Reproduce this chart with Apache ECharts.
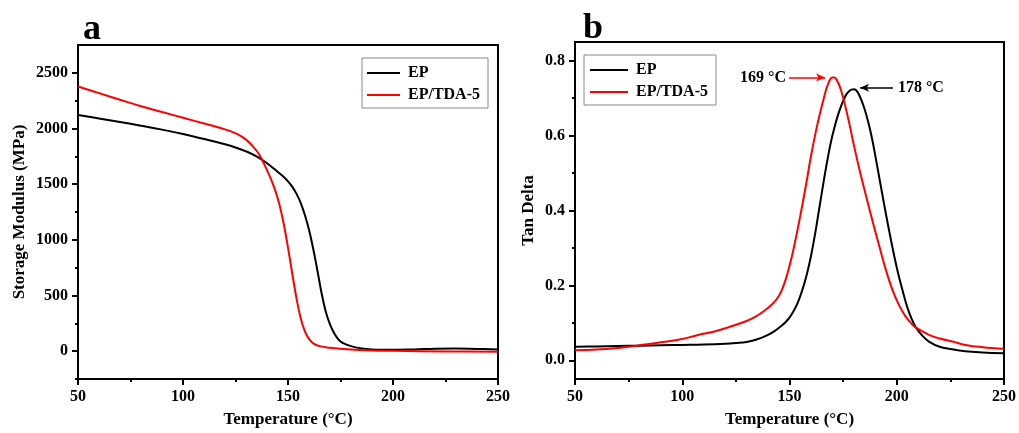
<!DOCTYPE html>
<html>
<head>
<meta charset="utf-8">
<script src="https://cdn.jsdelivr.net/npm/echarts@6/dist/echarts.min.js"></script>
<style>html,body{margin:0;padding:0;background:#fff}#c{width:1019px;height:433px}</style>
</head>
<body>
<div id="c"></div>
<script>
// ---------- Panel a : storage modulus ----------
var tA_EP   = [50,60,70,80,90,100,110,120,125,130,135,140,145,148,150,152,154,156,158,160,162,164,166,168,170,172,174,176,180,185,190,195,200,210,220,230,240,250];
var vA_EP   = [2122,2090,2058,2025,1990,1950,1905,1858,1830,1795,1750,1688,1612,1565,1525,1478,1415,1335,1225,1090,920,725,520,355,240,160,105,75,45,25,15,12,12,16,22,24,20,16];
var tA_TDA  = [50,60,70,80,90,100,110,115,120,124,127,130,133,136,138,140,142,144,146,148,150,152,154,156,158,160,162,165,170,180,190,200,225,250];
var vA_TDA  = [2377,2318,2258,2200,2148,2097,2045,2020,1992,1965,1938,1900,1845,1775,1705,1625,1540,1440,1310,1140,930,700,480,300,180,110,70,45,30,14,6,3,-2,-5];
var yA_major = [0,500,1000,1500,2000,2500];
var yA_minor = [-250,250,750,1250,1750,2250];

// ---------- Panel b : tan delta ----------
var tB_EP   = [50,60,70,80,90,100,110,120,125,130,135,140,143,146,148,150,152,154,156,158,160,162,164,166,168,170,173,176,178,180,182,185,188,191,194,197,200,203,205,207,209,212,215,220,225,232,240,250];
var vB_EP   = [0.036,0.037,0.038,0.039,0.040,0.041,0.042,0.044,0.046,0.049,0.056,0.068,0.078,0.091,0.101,0.114,0.132,0.156,0.188,0.228,0.278,0.340,0.410,0.480,0.545,0.600,0.662,0.705,0.720,0.724,0.714,0.671,0.605,0.515,0.420,0.330,0.248,0.180,0.140,0.110,0.087,0.065,0.050,0.036,0.030,0.024,0.021,0.019];
var tB_TDA  = [50,60,70,75,80,90,100,107,115,122,130,134,138,141,144,146,148,150,152,155,158,160,163,166,168,170,171,172,174,177,180,183,186,189,192,195,198,201,204,207,209,215,220,226,232,240,250];
var vB_TDA  = [0.027,0.029,0.033,0.036,0.040,0.048,0.057,0.067,0.077,0.089,0.105,0.116,0.131,0.145,0.163,0.182,0.212,0.252,0.300,0.385,0.478,0.545,0.630,0.700,0.738,0.755,0.755,0.749,0.722,0.655,0.575,0.500,0.432,0.365,0.302,0.240,0.188,0.148,0.118,0.097,0.087,0.068,0.058,0.050,0.041,0.035,0.031];
var yB_major = [0,0.2,0.4,0.6,0.8];
var yB_minor = [0.1,0.3,0.5,0.7];

// annotations (data coordinates)
var annoTDA = {text:'169 °C', from:[149.8,0.755], to:[166.6,0.755]};
var annoEP  = {text:'178 °C', from:[198.2,0.728], to:[182.9,0.728]};

var legendNames = ['EP','EP/TDA-5'];
var panelLabels = ['a','b'];

function pairs(t,v){return t.map(function(x,i){return [x,v[i]];});}

var FONT = 'Liberation Serif';
var txt = {fontFamily:FONT, fontWeight:'bold', color:'#000', fontSize:16};

function xAxisDef(grid){
  return {gridIndex:grid, type:'value', min:50, max:250, interval:50, position:'bottom',
    name:'Temperature (°C)', nameLocation:'middle', nameGap:32,
    nameTextStyle:Object.assign({}, txt, {fontSize:17}),
    axisLine:{show:true, onZero:false, lineStyle:{color:'#000', width:2}},
    axisTick:{show:true, length:6, lineStyle:{color:'#000', width:2}},
    minorTick:{show:true, splitNumber:2, length:3, lineStyle:{color:'#000', width:2}},
    axisLabel:Object.assign({margin:10}, txt),
    splitLine:{show:false}};
}
function yAxisDef(grid, min, max, major, name, gap, fmt){
  return {gridIndex:grid, type:'value', min:min, max:max, position:'left',
    name:name, nameLocation:'middle', nameGap:gap,
    nameTextStyle:Object.assign({}, txt, {fontSize:17}),
    axisLine:{show:true, onZero:false, lineStyle:{color:'#000', width:2}},
    axisTick:{show:true, length:6, customValues:major, lineStyle:{color:'#000', width:2}},
    axisLabel:Object.assign({margin:10, customValues:major, formatter:fmt}, txt),
    splitLine:{show:false}};
}
function yMinorDef(grid, min, max, minor){
  return {gridIndex:grid, type:'value', min:min, max:max, position:'left', offset:0,
    axisLine:{show:false, onZero:false},
    axisTick:{show:true, length:3, customValues:minor, lineStyle:{color:'#000', width:2}},
    axisLabel:{show:false},
    splitLine:{show:false}};
}
function legendDef(names, left, top, iw, pad){
  return {data:names.map(function(n){return {name:n, icon:'rect'};}),
    orient:'vertical', left:left, top:top, itemWidth:iw, itemHeight:2, itemGap:6,
    padding:pad, borderColor:'#888', borderWidth:1, backgroundColor:'#fff',
    formatter:function(n){return n.trim();},
    textStyle:Object.assign({}, txt, {lineHeight:16, padding:[0,0,0,3]}),
    selectedMode:false};
}

var option = {
  animation:false,
  backgroundColor:'#fff',
  title:[
    {text:panelLabels[0], left:78, top:7, textStyle:{fontFamily:FONT, fontWeight:'bold', fontSize:36, color:'#000'}},
    {text:panelLabels[1], left:578, top:6, textStyle:{fontFamily:FONT, fontWeight:'bold', fontSize:36, color:'#000'}}
  ],
  grid:[
    {left:78, top:45, width:420, height:336, show:true, borderColor:'#000', borderWidth:2, backgroundColor:'transparent'},
    {left:575, top:42, width:429, height:338, show:true, borderColor:'#000', borderWidth:2, backgroundColor:'transparent'}
  ],
  legend:[
    legendDef([legendNames[0], legendNames[1]], 362, 58, 33, [7,8,5,5]),
    legendDef([legendNames[0]+' ', legendNames[1]+' '], 584, 55, 38, [7,8,5,6])
  ],
  xAxis:[xAxisDef(0), xAxisDef(1)],
  yAxis:[
    yAxisDef(0, -250, 2750, yA_major, 'Storage Modulus (MPa)', 50, function(v){return String(v);}),
    yAxisDef(1, -0.05, 0.85, yB_major, 'Tan Delta', 38, function(v){return v.toFixed(1);}),
    yMinorDef(0, -250, 2750, yA_minor),
    yMinorDef(1, -0.05, 0.85, yB_minor)
  ],
  series:[
    {name:legendNames[0], type:'line', xAxisIndex:0, yAxisIndex:0, data:pairs(tA_EP,vA_EP),
     smooth:0.4, symbol:'none', lineStyle:{color:'#000', width:2}, itemStyle:{color:'#000'}},
    {name:legendNames[1], type:'line', xAxisIndex:0, yAxisIndex:0, data:pairs(tA_TDA,vA_TDA),
     smooth:0.4, symbol:'none', lineStyle:{color:'#f00', width:2}, itemStyle:{color:'#f00'}},
    {name:legendNames[0]+' ', type:'line', xAxisIndex:1, yAxisIndex:1, data:pairs(tB_EP,vB_EP),
     smooth:0.4, symbol:'none', lineStyle:{color:'#000', width:2}, itemStyle:{color:'#000'},
     markLine:{silent:true, animation:false, symbol:['none','arrow'], symbolSize:[6,9],
       lineStyle:{color:'#000', width:1.5, type:'solid'},
       label:Object.assign({show:true, position:'start', distance:5, formatter:annoEP.text}, txt),
       data:[[{coord:annoEP.from},{coord:annoEP.to}]]}},
    {name:legendNames[1]+' ', type:'line', xAxisIndex:1, yAxisIndex:1, data:pairs(tB_TDA,vB_TDA),
     smooth:0.4, symbol:'none', lineStyle:{color:'#f00', width:2}, itemStyle:{color:'#f00'},
     markLine:{silent:true, animation:false, symbol:['none','arrow'], symbolSize:[6,9],
       lineStyle:{color:'#f00', width:1.5, type:'solid'},
       label:Object.assign({show:true, position:'start', distance:3, formatter:annoTDA.text}, txt),
       data:[[{coord:annoTDA.from},{coord:annoTDA.to}]]}}
  ]
};
echarts.init(document.getElementById('c')).setOption(option);
</script>
</body>
</html>
